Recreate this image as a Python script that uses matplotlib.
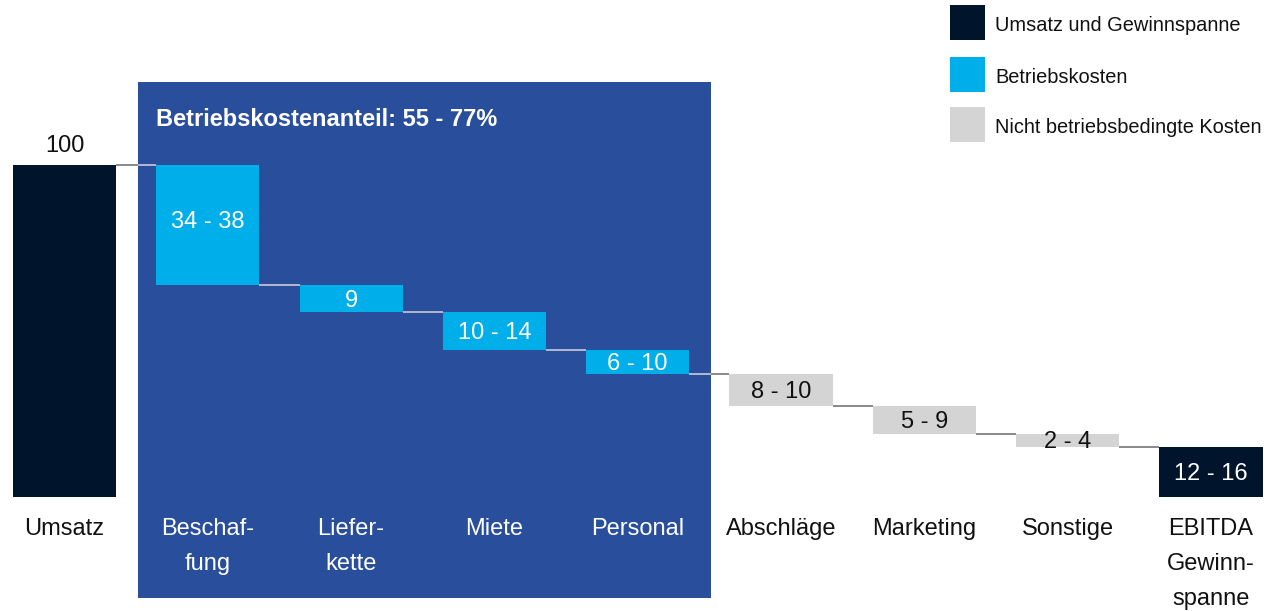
import matplotlib
matplotlib.use("Agg")
import matplotlib.pyplot as plt
from matplotlib.patches import Rectangle
import numpy as np

plt.rcParams['font.family'] = ['Liberation Sans', 'DejaVu Sans']

# ---- data ----
categories = ["Umsatz", "Beschaf-\nfung", "Liefer-\nkette", "Miete", "Personal",
              "Abschläge", "Marketing", "Sonstige", "EBITDA\nGewinn-\nspanne"]
value_labels = ["100", "34 - 38", "9", "10 - 14", "6 - 10", "8 - 10", "5 - 9", "2 - 4", "12 - 16"]
total = 100
cost_steps = [36, 8.4, 11.2, 7.4, 9.5, 8.4, 3.9]   # estimated bar heights (midpoints)
kinds = ["total", "op", "op", "op", "op", "nonop", "nonop", "nonop", "total"]
legend_labels = ["Umsatz und Gewinnspanne", "Betriebskosten", "Nicht betriebsbedingte Kosten"]
box_title = "Betriebskostenanteil: 55 - 77%"

NAVY = "#00142C"
CYAN = "#00AEE9"
GREY = "#D4D4D4"
BOXBLUE = "#284E9C"
colors = {"total": NAVY, "op": CYAN, "nonop": GREY}

# ---- geometry from data ----
levels = total - np.concatenate([[0], np.cumsum(cost_steps)])   # running level after each step
bottoms = [0] + list(levels[1:]) + [0]
heights = [total] + list(cost_steps) + [levels[-1]]
tops = [b + h for b, h in zip(bottoms, heights)]

fig = plt.figure(figsize=(12.79, 6.11), dpi=100)
ax = fig.add_axes([0, 0, 1, 1])
ax.set_xlim(-0.45, 8.475)
ax.set_ylim(-34.34, 149.7)
ax.axis("off")

# blue operating-cost box
box = Rectangle((0.513, -30.4), 3.998, 155.4, facecolor=BOXBLUE, edgecolor="none", zorder=0)
ax.add_patch(box)
ax.text(0.64, 113.7, box_title, color="white", fontsize=17, fontweight="bold",
        ha="left", va="center", zorder=5)

x = np.arange(len(categories))
width = 0.72
ax.bar(x, heights, bottom=bottoms, width=width,
       color=[colors[k] for k in kinds], edgecolor="none", zorder=3)

# connectors
for i in range(len(x) - 1):
    lvl = tops[i + 1] if i < len(x) - 2 else tops[-1]
    x0 = x[i] + width / 2
    x1 = x[i + 1] - width / 2
    ax.plot([x0, x1], [lvl, lvl], color="#6a6a6a", lw=1.1, zorder=2, solid_capstyle="butt")
    ln, = ax.plot([x0, x1], [lvl, lvl], color="#c9cfe6", lw=1.1, zorder=2.5, solid_capstyle="butt")
    ln.set_clip_path(box)

# value labels
for i, (lab, k) in enumerate(zip(value_labels, kinds)):
    if i == 0:
        ax.text(x[i], tops[i] + 5.7, lab, ha="center", va="center", fontsize=17, color="#111111")
    else:
        mid = bottoms[i] + heights[i] / 2 - 0.7
        c = "#111111" if k == "nonop" else "white"
        if i == 1:
            mid += 1.4
        ax.text(x[i], mid, lab, ha="center", va="center", fontsize=17, color=c, zorder=5)

# category labels
for i, lab in enumerate(categories):
    inside = 1 <= i <= 4
    ax.text(x[i], -6.4, lab, ha="center", va="top", fontsize=17,
            color="white" if inside else "#111111", linespacing=1.76, zorder=5)

# legend
leg_y = [0.9918, 0.9067, 0.8249]
for lab, col, yy in zip(legend_labels, [NAVY, CYAN, GREY], leg_y):
    fig.patches.append(Rectangle((950 / 1279, yy - 35 / 611), 35 / 1279, 35 / 611,
                                 transform=fig.transFigure, facecolor=col, edgecolor="none"))
    fig.text(995 / 1279, yy - 20.5 / 611, lab, ha="left", va="center", fontsize=14.4, color="#111111")

fig.savefig("out.png", dpi=100)
